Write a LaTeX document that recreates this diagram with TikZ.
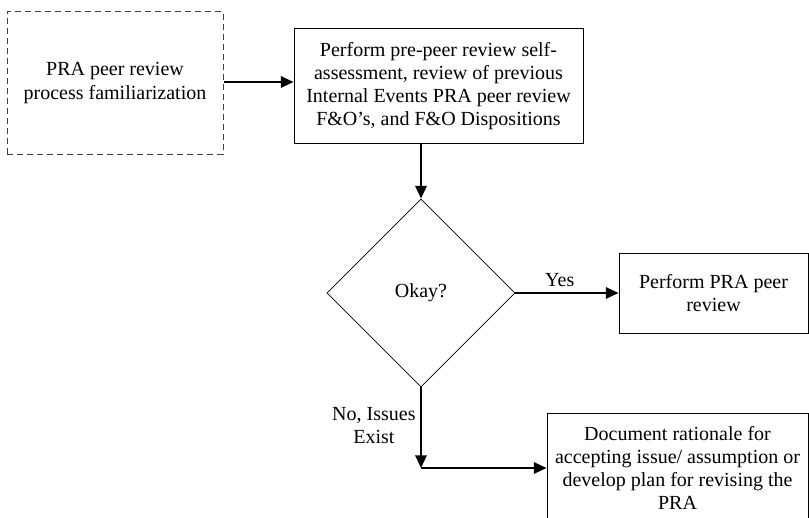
\documentclass[tikz,border=0pt]{standalone}
\usepackage{fontspec}
\setmainfont{Liberation Serif}
\usetikzlibrary{arrows.meta, shapes.geometric, positioning}

\begin{document}
\begin{tikzpicture}[x = 0.75pt, y = -0.75pt, >={Triangle[length=9.5pt, width=8.5pt]},
    font = \fontsize{15}{17.4}\selectfont,
    task/.style = {rectangle, draw, line width=0.75pt, align=center, inner sep=0pt},
    prep/.style = {task, draw=black!75, dash pattern=on 4.5pt off 3pt},
    check/.style = {diamond, draw, line width=0.6pt, aspect=1, inner sep=0pt,
                    minimum width=141pt, minimum height=141pt},
    flow/.style = {->, line width=1.5pt}]
  \useasboundingbox (0,0) rectangle (809,517);

  \node[prep, minimum width=162pt, minimum height=106.5pt] (A) at (115,83)
    {PRA peer review\\process familiarization};
  \node[task, minimum width=216.75pt, minimum height=85.5pt] (B) at (438.5,86)
    {Perform pre-peer review self-\\assessment, review of previous\\Internal Events PRA peer review\\F\&O’s, and F\&O Dispositions};
  \node[check] (C) at (421,293) {Okay?};
  \node[task, minimum width=141.75pt, minimum height=60pt] (D) at (713.5,293)
    {Perform PRA peer\\review};
  \node[task, minimum width=195.75pt, minimum height=82.5pt] (E) at (677.5,468)
    {Document rationale for\\accepting issue/ assumption or\\develop plan for revising the\\PRA};
  \coordinate (J) at (C.south |- E.west);

  \path[flow]
    (A.east |- 0,82) edge (B.west |- 0,82)
    (C.north |- B.south) edge (C)
    (C) edge node[above=1pt, pos=0.43] {Yes} (D)
    (C) edge node[left, align=center, pos=0.47] {No, Issues\\Exist} (J)
    (J) edge (E);
\end{tikzpicture}
\end{document}
